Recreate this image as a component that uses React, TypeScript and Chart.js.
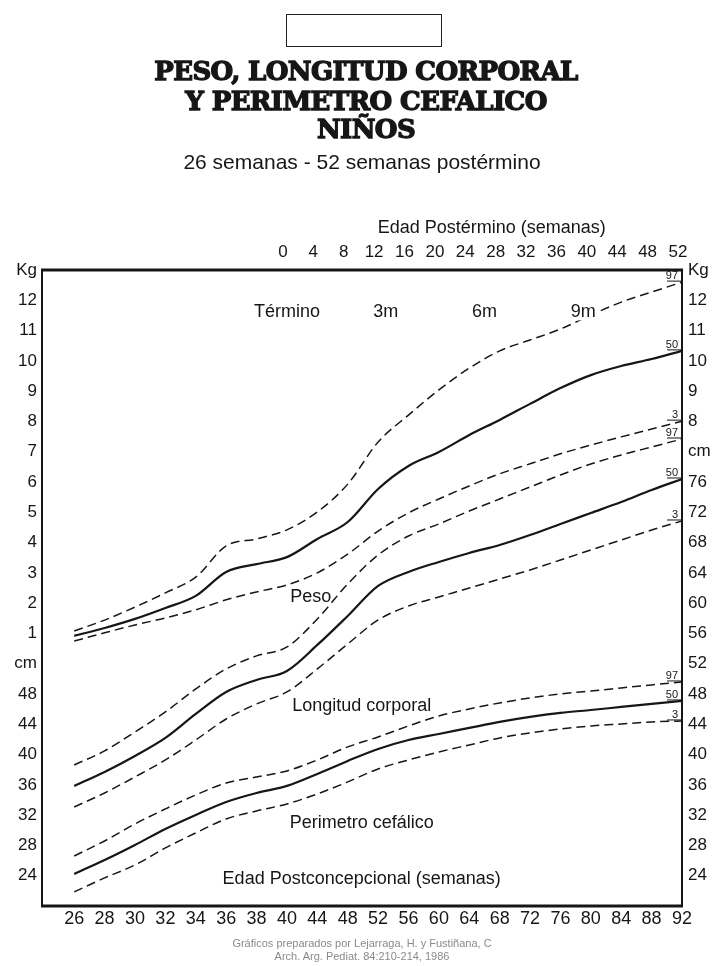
import React, { useEffect, useRef } from "react";
import { Chart, registerables } from "chart.js";

Chart.register(...registerables);

// ---- data ----
const pcWeeks = [26, 28, 30, 32, 34, 36, 38, 40, 44, 48, 52, 56, 60, 64, 68, 72, 76, 80, 84, 88, 92];
const ptWeeks = [0, 4, 8, 12, 16, 20, 24, 28, 32, 36, 40, 44, 48, 52];
const leftTickLabels = ["Kg", "12", "11", "10", "9", "8", "7", "6", "5", "4", "3", "2", "1", "cm", "48", "44", "40", "36", "32", "28", "24", ""];
const rightTickLabels = ["Kg", "12", "11", "10", "9", "8", "cm", "76", "72", "68", "64", "60", "56", "52", "48", "44", "40", "36", "32", "28", "24", ""];
const percentileLabels = ["97", "50", "3"];
const monthLabels = ["Término", "3m", "6m", "9m"];
const monthWeeks = [0, 13, 26, 39];

const weight97 = [1.08, 1.44, 1.87, 2.34, 2.86, 3.89, 4.12, 4.42, 5.01, 5.93, 7.32, 8.21, 9.04, 9.76, 10.33, 10.69, 11.05, 11.51, 11.94, 12.27, 12.6];
const weight50 = [0.92, 1.18, 1.48, 1.84, 2.24, 3.03, 3.29, 3.52, 4.12, 4.68, 5.77, 6.53, 6.99, 7.55, 8.05, 8.58, 9.1, 9.53, 9.83, 10.06, 10.33];
const weight3 = [0.75, 1.02, 1.28, 1.51, 1.78, 2.11, 2.37, 2.6, 3.0, 3.62, 4.38, 4.98, 5.44, 5.87, 6.27, 6.6, 6.93, 7.22, 7.49, 7.75, 8.01];

const length97 = [38.63, 40.48, 42.99, 45.63, 48.67, 51.31, 53.03, 54.21, 57.91, 62.53, 66.36, 68.87, 70.46, 72.17, 73.76, 75.34, 76.93, 78.38, 79.57, 80.63, 81.68];
const length50 = [35.86, 37.71, 39.82, 42.2, 45.37, 48.27, 49.86, 51.04, 54.48, 58.31, 62.27, 64.12, 65.44, 66.63, 67.68, 69.0, 70.46, 71.91, 73.36, 74.95, 76.4];
const length3 = [33.08, 34.93, 37.05, 39.29, 41.93, 44.7, 46.69, 48.27, 51.31, 54.61, 57.78, 59.63, 60.82, 62.0, 63.19, 64.38, 65.7, 67.02, 68.34, 69.66, 70.85];

const head97 = [26.61, 28.59, 30.84, 32.82, 34.67, 36.25, 37.04, 37.84, 39.29, 41.01, 42.33, 43.78, 45.1, 46.03, 46.82, 47.48, 48.01, 48.4, 48.8, 49.2, 49.59];
const head50 = [24.24, 26.08, 28.07, 30.18, 32.03, 33.74, 34.93, 35.86, 37.44, 39.16, 40.74, 41.93, 42.72, 43.52, 44.31, 44.97, 45.5, 45.89, 46.29, 46.69, 47.08];
const head3 = [21.86, 23.71, 25.42, 27.67, 29.65, 31.5, 32.55, 33.48, 34.8, 36.39, 38.1, 39.29, 40.35, 41.27, 42.2, 42.86, 43.38, 43.78, 44.04, 44.31, 44.44];

// ---- style / layout ----
const INK = "#161616";
const SANS = "'Liberation Sans', Arial, Helvetica, sans-serif";
const W = 712;
const H = 966;
const AREA = { left: 42, right: 682, top: 270, bottom: 906 };

const plotNotes = [
  { text: "Peso", x: 7.78, y: 2.2, axis: "yKg" },
  { text: "Longitud corporal", x: 9.46, y: 46.4, axis: "yCm" },
  { text: "Perimetro cefálico", x: 9.46, y: 31.0, axis: "yCm" },
  { text: "Edad Postconcepcional (semanas)", x: 9.46, y: 23.6, axis: "yCm" },
];

const toPoints = (vals: number[]) => vals.map((v, i) => ({ x: i, y: v }));

function makeSet(vals: number[], pct: string, axis: string) {
  const solid = pct === "50";
  return {
    data: toPoints(vals),
    yAxisID: axis,
    xAxisID: "x",
    pct,
    borderColor: INK,
    borderWidth: solid ? 2.2 : 1.5,
    borderDash: solid ? [] : [9, 5],
    pointRadius: 0,
    fill: false,
    cubicInterpolationMode: "monotone",
  };
}

const decor = {
  id: "decor",
  afterDatasetsDraw(chart: any) {
    const { ctx, chartArea: a, scales } = chart;
    ctx.save();
    ctx.fillStyle = INK;
    ctx.strokeStyle = INK;
    // percentile end labels
    chart.data.datasets.forEach((ds: any, di: number) => {
      const meta = chart.getDatasetMeta(di);
      const last = meta.data[meta.data.length - 1];
      if (!last) return;
      ctx.font = `11px ${SANS}`;
      ctx.textAlign = "right";
      ctx.textBaseline = "alphabetic";
      ctx.fillText(ds.pct, a.right - 4, last.y - 3);
      ctx.lineWidth = 1;
      ctx.beginPath();
      ctx.moveTo(a.right - 15, last.y - 1);
      ctx.lineTo(a.right, last.y - 1);
      ctx.stroke();
    });
    // month labels along the top
    ctx.font = `18px ${SANS}`;
    ctx.textAlign = "center";
    ctx.textBaseline = "middle";
    const termIdx = pcWeeks.indexOf(40);
    monthLabels.forEach((t, i) => {
      const px = scales.x.getPixelForValue(termIdx + monthWeeks[i] / 4);
      const py = scales.yKg.getPixelForValue(11.6);
      if (i === monthLabels.length - 1) {
        const w = ctx.measureText(t).width;
        ctx.fillStyle = "#fff";
        ctx.fillRect(px - w / 2 - 1, py - 8, w + 2, 16);
        ctx.fillStyle = INK;
      }
      ctx.fillText(t, px, py);
    });
    plotNotes.forEach((n) => {
      const px = scales.x.getPixelForValue(n.x);
      const py = scales[n.axis].getPixelForValue(n.y);
      ctx.fillText(n.text, px, py);
    });
    // top axis title
    ctx.fillText("Edad Postérmino (semanas)", scales.x.getPixelForValue(13.74), a.top - 42);
    ctx.restore();
  },
  afterDraw(chart: any) {
    const { ctx, chartArea: a } = chart;
    ctx.save();
    ctx.strokeStyle = INK;
    ctx.lineWidth = 2;
    ctx.beginPath();
    ctx.moveTo(a.left, a.top);
    ctx.lineTo(a.left, a.bottom);
    ctx.moveTo(a.right, a.top);
    ctx.lineTo(a.right, a.bottom);
    ctx.stroke();
    ctx.lineWidth = 3;
    ctx.beginPath();
    ctx.moveTo(a.left - 1, a.top);
    ctx.lineTo(a.right + 1, a.top);
    ctx.moveTo(a.left - 1, a.bottom);
    ctx.lineTo(a.right + 1, a.bottom);
    ctx.stroke();
    ctx.restore();
  },
};

export default function App() {
  const ref = useRef<HTMLCanvasElement | null>(null);

  useEffect(() => {
    if (!ref.current) return;
    Chart.defaults.font.family = SANS;
    Chart.defaults.color = INK;
    const xMin = -1.06;
    const xMax = pcWeeks.length - 1;
    const chart = new Chart(ref.current, {
      type: "line",
      data: {
        datasets: [
          makeSet(weight97, percentileLabels[0], "yKg"),
          makeSet(weight50, percentileLabels[1], "yKg"),
          makeSet(weight3, percentileLabels[2], "yKg"),
          makeSet(length97, percentileLabels[0], "yCm"),
          makeSet(length50, percentileLabels[1], "yCm"),
          makeSet(length3, percentileLabels[2], "yCm"),
          makeSet(head97, percentileLabels[0], "yCm"),
          makeSet(head50, percentileLabels[1], "yCm"),
          makeSet(head3, percentileLabels[2], "yCm"),
        ] as any,
      },
      options: {
        animation: false,
        responsive: false,
        maintainAspectRatio: false,
        layout: { padding: 0 },
        plugins: { legend: { display: false }, tooltip: { enabled: false }, title: { display: false } },
        scales: {
          x: {
            type: "linear",
            position: "bottom",
            min: xMin,
            max: xMax,
            grid: { display: false, drawTicks: false },
            border: { display: false },
            afterBuildTicks: (s: any) => {
              s.ticks = pcWeeks.map((_, i) => ({ value: i }));
            },
            afterFit: (s: any) => {
              s.height = H - AREA.bottom;
            },
            ticks: {
              autoSkip: false,
              maxRotation: 0,
              padding: 2,
              color: INK,
              font: { size: 18 },
              callback: (v: any) => String(pcWeeks[v]),
            },
          },
          x2: {
            type: "linear",
            position: "top",
            min: xMin,
            max: xMax,
            grid: { display: false, drawTicks: false },
            border: { display: false },
            afterBuildTicks: (s: any) => {
              s.ticks = ptWeeks.map((w) => ({ value: pcWeeks.indexOf(40 + w) }));
            },
            afterFit: (s: any) => {
              s.height = AREA.top;
            },
            ticks: {
              autoSkip: false,
              maxRotation: 0,
              padding: 7,
              labelOffset: -4,
              color: INK,
              font: { size: 17 },
              callback: (_v: any, i: number) => String(ptWeeks[i]),
            },
          },
          yKg: {
            type: "linear",
            position: "left",
            min: -8,
            max: 13,
            grid: { display: false, drawTicks: false },
            border: { display: false },
            afterBuildTicks: (s: any) => {
              s.ticks = leftTickLabels.map((_, i) => ({ value: 13 - i }));
            },
            afterFit: (s: any) => {
              s.width = AREA.left;
            },
            ticks: {
              autoSkip: false,
              padding: 5,
              color: INK,
              font: { size: 17 },
              callback: (v: any) => leftTickLabels[13 - v],
            },
          },
          yCm: {
            type: "linear",
            position: "right",
            min: 20,
            max: 104,
            grid: { display: false, drawTicks: false },
            border: { display: false },
            afterBuildTicks: (s: any) => {
              s.ticks = rightTickLabels.map((_, i) => ({ value: 104 - 4 * i }));
            },
            afterFit: (s: any) => {
              s.width = W - AREA.right;
            },
            ticks: {
              autoSkip: false,
              padding: 6,
              color: INK,
              font: { size: 17 },
              callback: (v: any) => rightTickLabels[(104 - v) / 4],
            },
          },
        },
      } as any,
      plugins: [decor],
    });
    return () => chart.destroy();
  }, []);

  const titleLine = (top: number): React.CSSProperties => ({
    position: "absolute",
    left: 10,
    top,
    width: W,
    textAlign: "center",
    fontFamily: "'DejaVu Serif', serif",
    fontWeight: 700,
    fontSize: 26,
    lineHeight: "26px",
    letterSpacing: "-0.6px",
    color: INK,
    WebkitTextStroke: "1.3px #161616",
    whiteSpace: "nowrap",
  });

  return (
    <div style={{ position: "absolute", left: 0, top: 0, width: W, height: H, background: "#fff", overflow: "hidden" }}>
      <canvas ref={ref} width={W} height={H} style={{ position: "absolute", left: 0, top: 0, display: "block" }} />
      <div
        style={{
          position: "absolute",
          left: 286,
          top: 14,
          width: 156,
          height: 33,
          border: "1.5px solid #222",
          boxSizing: "border-box",
        }}
      />
      <div style={titleLine(58)}>PESO, LONGITUD CORPORAL</div>
      <div style={titleLine(88)}>Y PERIMETRO CEFALICO</div>
      <div style={titleLine(116)}>NIÑOS</div>
      <div
        style={{
          position: "absolute",
          left: 0,
          top: 151,
          width: 724,
          textAlign: "center",
          fontFamily: SANS,
          fontSize: 21,
          lineHeight: "21px",
          color: INK,
          whiteSpace: "nowrap",
        }}
      >
        26 semanas - 52 semanas postérmino
      </div>
      <div
        style={{
          position: "absolute",
          left: 0,
          top: 937,
          width: 724,
          textAlign: "center",
          fontFamily: SANS,
          fontSize: 11,
          lineHeight: "13px",
          color: "#8a8a8a",
          whiteSpace: "nowrap",
        }}
      >
        Gráficos preparados por Lejarraga, H. y Fustiñana, C
        <br />
        Arch. Arg. Pediat. 84:210-214, 1986
      </div>
    </div>
  );
}
